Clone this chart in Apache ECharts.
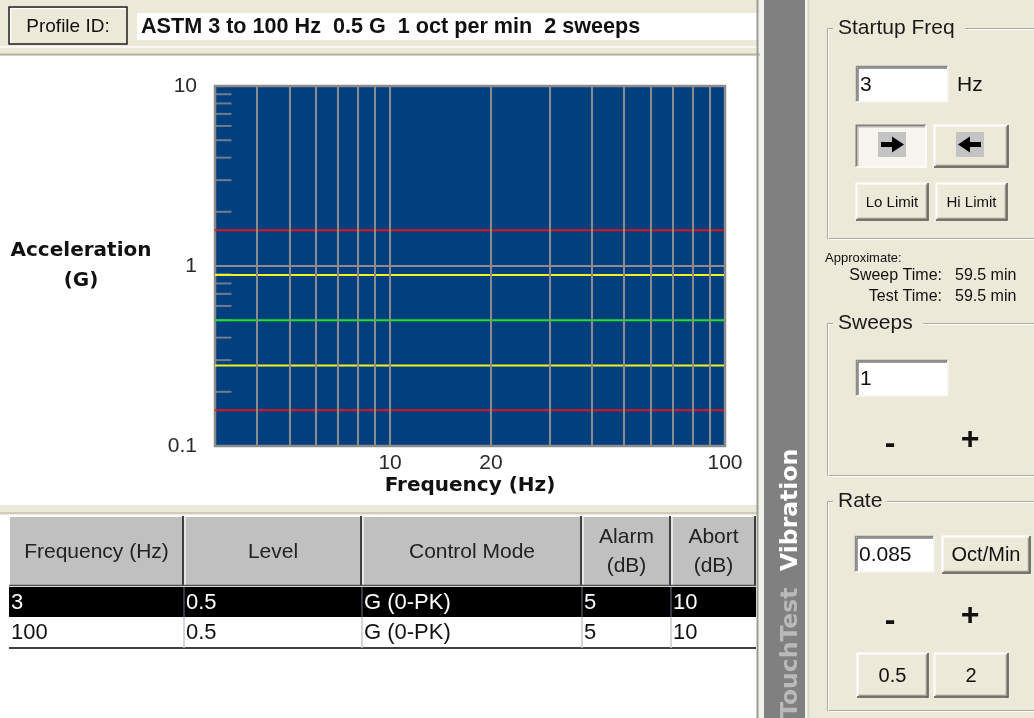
<!DOCTYPE html>
<html><head><meta charset="utf-8">
<script src="https://cdn.jsdelivr.net/npm/echarts@6/dist/echarts.min.js"></script>
<style>html,body{margin:0;padding:0;background:#ece9d8;}#c{width:1034px;height:718px;}</style>
</head><body><div id="c"></div>
<script>
// ---------------- data ----------------
const profileTitle = 'ASTM 3 to 100 Hz  0.5 G  1 oct per min  2 sweeps';
const profileFreqs = [3, 100];
const levelG = [0.5, 0.5];
const alarmUpperG = [0.89, 0.89];
const alarmLowerG = [0.28, 0.28];
const abortUpperG = [1.58, 1.58];
const abortLowerG = [0.158, 0.158];
const freqGridValues = [4, 5, 6, 7, 8, 9, 10, 20, 30, 40, 50, 60, 70, 80, 90, 100];
const freqTickLabels = [10, 20, 100];
const accelMinorTicks = [0.2, 0.3, 0.4, 0.5, 0.6, 0.7, 0.8, 0.9, 2, 3, 4, 5, 6, 7, 8, 9];
const tableHeaders = ['Frequency (Hz)', 'Level', 'Control Mode', 'Alarm\n(dB)', 'Abort\n(dB)'];
const tableRows = [
  ['3', '0.5', 'G (0-PK)', '5', '10'],
  ['100', '0.5', 'G (0-PK)', '5', '10']
];
const startupFreq = '3';
const sweepsValue = '1';
const rateValue = '0.085';
const sweepTime = '59.5 min';
const testTime = '59.5 min';

// ---------------- helpers for the surrounding panel ----------------
const G = [];
const SANS = '"Liberation Sans", Arial, sans-serif';
const BOLDW = '"DejaVu Sans", Verdana, sans-serif';
function rect(x, y, w, h, fill, stroke, lw, z) {
  G.push({type: 'rect', z: z == null ? -5 : z, silent: true,
    shape: {x: x, y: y, width: w, height: h},
    style: {fill: fill || 'transparent', stroke: stroke || null, lineWidth: lw || 0}});
}
function pline(pts, color, lw, z) {
  G.push({type: 'polyline', z: z == null ? -4 : z, silent: true,
    shape: {points: pts}, style: {stroke: color, lineWidth: lw || 1, fill: null}});
}
function line(x1, y1, x2, y2, color, lw, z) { pline([[x1, y1], [x2, y2]], color, lw, z); }
function poly(pts, fill, z) {
  G.push({type: 'polygon', z: z == null ? -3 : z, silent: true, shape: {points: pts}, style: {fill: fill}});
}
function text(t, x, y, font, fill, align, valign, extra, rot) {
  const st = Object.assign({text: t, font: font, fill: fill, align: align, verticalAlign: valign,
    textAlign: align, textVerticalAlign: valign}, extra || {});
  const el = {type: 'text', z: 10, silent: true, x: x, y: y, style: st};
  if (rot) el.rotation = rot;
  G.push(el);
}
function button(x, y, w, h, label, font, pressed) {
  rect(x, y, w, h, pressed ? '#f6f5f0' : '#ece9d8');
  if (!pressed) {
    pline([[x + 0.5, y + h], [x + 0.5, y + 0.5], [x + w, y + 0.5]], '#ffffff', 2);
    pline([[x + 1.5, y + h - 1.5], [x + w - 1.5, y + h - 1.5], [x + w - 1.5, y + 1.5]], '#9a9888', 1.5);
    pline([[x, y + h], [x + w, y + h], [x + w, y]], '#505050', 1.5);
  } else {
    pline([[x + 0.5, y + h], [x + 0.5, y + 0.5], [x + w, y + 0.5]], '#808080', 2);
    pline([[x + 2, y + h - 1], [x + 2, y + 2], [x + w - 1, y + 2]], '#b8b6a8', 1);
    pline([[x, y + h], [x + w, y + h], [x + w, y]], '#ffffff', 1.5);
  }
  if (label) text(label, x + w / 2, y + h / 2 + 1, font, '#111', 'center', 'middle');
}
function input(x, y, w, h, val) {
  rect(x, y, w, h, '#ffffff');
  pline([[x + 0.5, y + h], [x + 0.5, y + 0.5], [x + w, y + 0.5]], '#8a8a8a', 1.5);
  pline([[x + 2, y + h - 1], [x + 2, y + 2], [x + w - 1, y + 2]], '#404040', 1);
  pline([[x, y + h], [x + w, y + h], [x + w, y]], '#f4f3ee', 1.5);
  text(val, x + 4, y + h / 2 + 1, '21px ' + SANS, '#111', 'left', 'middle');
}
function groupbox(x, y, w, h, title, tw) {
  rect(x + 0.5, y + 0.5, w, h, null, '#aca899', 1);
  rect(x + 1.5, y + 1.5, w, h, null, '#ffffff', 1);
  rect(x + 6, y - 12, tw, 24, '#ece9d8', null, 0, -3);
  text(title, x + 11, y, '21px ' + SANS, '#1a1a1a', 'left', 'middle');
}

// ---- top strip ----
rect(0, 0, 770, 56, '#ece9d8', null, 0, -6);
rect(9, 7, 118, 37, '#ece9d8');
pline([[10.5, 43], [10.5, 8.5], [126, 8.5]], '#ffffff', 1.5);
rect(9, 7, 118, 37, null, '#1e1e1e', 1.5, -4);
text('Profile ID:', 68, 26.5, '19px ' + SANS, '#111', 'center', 'middle');
rect(137, 13, 631, 27, '#ffffff');
text(profileTitle, 141, 27.5, 'bold 21.6px ' + SANS, '#111', 'left', 'middle');
line(0, 47, 760, 47, '#f8f7f2', 2);
line(0, 54.5, 760, 54.5, '#b9b6a6', 2);

// ---- left white panel ----
rect(0, 56, 757, 662, '#ffffff', null, 0, -6);
rect(0, 505, 757, 10, '#ece9d8');
line(0, 513, 757, 513, '#cfccbc', 2);
line(757.5, 0, 757.5, 718, '#9c9c9c', 2);
rect(758.5, 0, 5.5, 718, '#f2f1ea');

// ---- table ----
const colEdges = [9, 184, 362, 582, 671, 756];
rect(9, 516, 747, 70, '#c0c0c0');
line(9, 516.5, 756, 516.5, '#ffffff', 1);
line(9.5, 516, 9.5, 586, '#ffffff', 1);
for (let i = 1; i < colEdges.length; i++) {
  line(colEdges[i] - 1, 516, colEdges[i] - 1, 586, '#404040', 2);
  if (i < colEdges.length - 1) line(colEdges[i] + 1, 516, colEdges[i] + 1, 586, '#ffffff', 1.2);
}
line(9, 585.5, 756, 585.5, '#505050', 1.5);
rect(9, 587, 747, 30, '#000000');
rect(9, 617, 747, 31, '#ffffff');
for (let i = 1; i < colEdges.length - 1; i++) {
  line(colEdges[i], 587, colEdges[i], 617, '#4b4b5c', 1.5, -3);
  line(colEdges[i], 617, colEdges[i], 648, '#c8c8c8', 1.5, -3);
}
line(9, 648, 756, 648, '#404040', 2);
tableHeaders.forEach(function (h, i) {
  text(h, (colEdges[i] + colEdges[i + 1]) / 2, 552, '21px ' + SANS, '#222', 'center', 'middle', {lineHeight: 29});
});
tableRows.forEach(function (row, r) {
  const yc = 603 + r * 30;
  row.forEach(function (cell, i) {
    text(cell, colEdges[i] + 2, yc, '22px ' + SANS, r === 0 ? '#ffffff' : '#111', 'left', 'middle');
  });
});

// ---- vertical bar ----
rect(764, 0, 41, 718, '#808080');
line(806, 0, 806, 718, '#f4f3ee', 2);
line(808.5, 0, 808.5, 718, '#d8d5c6', 1.5);
text('TouchTest', 791, 718, 'bold 23.5px ' + BOLDW, '#b9b9b9', 'left', 'middle', null, Math.PI / 2);
text('Vibration', 791, 571, 'bold 23.5px ' + BOLDW, '#ffffff', 'left', 'middle', null, Math.PI / 2);

// ---- right panel ----
groupbox(827, 28, 230, 210, 'Startup Freq', 132);
input(856, 66, 92, 36, startupFreq);
text('Hz', 957, 85, '21px ' + SANS, '#111', 'left', 'middle');
button(856, 125, 70, 42, null, null, true);
rect(878, 132, 28, 25, '#c3c3c3', null, 0, -3);
poly([[881, 142], [892, 142], [892, 136.5], [904, 144.5], [892, 152.5], [892, 147], [881, 147]], '#000');
button(934, 125, 74, 42, null, null, false);
rect(956, 132, 28, 25, '#c3c3c3', null, 0, -3);
poly([[981, 142], [970, 142], [970, 136.5], [958, 144.5], [970, 152.5], [970, 147], [981, 147]], '#000');
button(856, 183, 72, 37, 'Lo Limit', '15px ' + SANS, false);
button(936, 183, 71, 37, 'Hi Limit', '15px ' + SANS, false);

text('Approximate:', 825, 258, '13px ' + SANS, '#111', 'left', 'middle');
text('Sweep Time:', 942, 276, '16px ' + SANS, '#111', 'right', 'middle');
text(sweepTime, 955, 276, '16px ' + SANS, '#111', 'left', 'middle');
text('Test Time:', 942, 297, '16px ' + SANS, '#111', 'right', 'middle');
text(testTime, 955, 297, '16px ' + SANS, '#111', 'left', 'middle');

groupbox(827, 323, 230, 152, 'Sweeps', 90);
input(856, 360, 92, 36, sweepsValue);
text('-', 890, 444, 'bold 32px ' + SANS, '#111', 'center', 'middle');
text('+', 970, 440, 'bold 32px ' + SANS, '#111', 'center', 'middle');

groupbox(827, 501, 230, 209, 'Rate', 54);
input(855, 536, 79, 36, rateValue);
button(942, 536, 88, 37, 'Oct/Min', '20px ' + SANS, false);
text('-', 890, 621, 'bold 32px ' + SANS, '#111', 'center', 'middle');
text('+', 970, 616, 'bold 32px ' + SANS, '#111', 'center', 'middle');
button(857, 653, 71, 44, '0.5', '20px ' + SANS, false);
button(934, 653, 74, 44, '2', '20px ' + SANS, false);

// ---------------- chart ----------------
function levelSeries(name, vals, color) {
  return {
    name: name, type: 'line', z: 4, silent: true, showSymbol: false, symbol: 'none',
    animation: false, clip: true,
    lineStyle: {color: color, width: 2},
    data: profileFreqs.map(function (f, i) { return [f, vals[i]]; })
  };
}

const chart = echarts.init(document.getElementById('c'), null, {renderer: 'canvas'});
chart.setOption({
  animation: false,
  backgroundColor: '#ece9d8',
  graphic: {elements: G},
  grid: {
    left: 215, top: 86, width: 510, height: 360,
    show: true, backgroundColor: '#013f7e', borderColor: '#8a8a8a', borderWidth: 2.5,
    containLabel: false, outerBoundsMode: 'none'
  },
  xAxis: {
    type: 'log', logBase: 10, min: 3, max: 100,
    axisLine: {show: false}, axisTick: {show: false}, axisLabel: {show: false},
    splitLine: {show: false},
    name: 'Frequency (Hz)', nameLocation: 'middle', nameGap: 30,
    nameTextStyle: {fontFamily: BOLDW, fontWeight: 'bold', fontSize: 20, color: '#111'}
  },
  yAxis: {
    type: 'log', logBase: 10, min: 0.1, max: 10,
    axisLine: {show: false}, axisTick: {show: false},
    axisLabel: {
      margin: 18, fontFamily: SANS, fontSize: 21, color: '#2a2a2a',
      formatter: function (v) { return String(Number(Number(v).toPrecision(3))); }
    },
    splitLine: {show: true, lineStyle: {color: '#8c8c8c', width: 2}},
    name: 'Acceleration\n(G)', nameLocation: 'middle', nameRotate: 0, nameGap: 134,
    nameTextStyle: {fontFamily: BOLDW, fontWeight: 'bold', fontSize: 20, color: '#111',
      align: 'center', verticalAlign: 'middle', lineHeight: 30}
  },
  series: [
    {
      name: 'freqGrid', type: 'line', z: 2, silent: true, data: [],
      markLine: {
        silent: true, symbol: ['none', 'none'], animation: false,
        lineStyle: {color: '#8c8c8c', width: 2, type: 'solid'},
        emphasis: {disabled: true},
        label: {show: false, position: 'start', distance: 7,
          fontFamily: SANS, fontSize: 21, color: '#2a2a2a',
          formatter: function (p) { return String(p.value); }},
        data: freqGridValues.map(function (v) {
          return {xAxis: v, label: {show: freqTickLabels.indexOf(v) >= 0}};
        })
      }
    },
    {
      name: 'yMinorTicks', type: 'scatter', z: 3, silent: true, clip: false,
      symbol: 'rect', symbolSize: [17, 2], symbolOffset: [8, 0],
      itemStyle: {color: '#8c8c8c'},
      data: accelMinorTicks.map(function (v) { return [profileFreqs[0], v]; })
    },
    levelSeries('Abort upper', abortUpperG, '#e0141e'),
    levelSeries('Alarm upper', alarmUpperG, '#f2f21e'),
    levelSeries('Level', levelG, '#22e022'),
    levelSeries('Alarm lower', alarmLowerG, '#f2f21e'),
    levelSeries('Abort lower', abortLowerG, '#e0141e')
  ]
});
</script>
</body></html>
